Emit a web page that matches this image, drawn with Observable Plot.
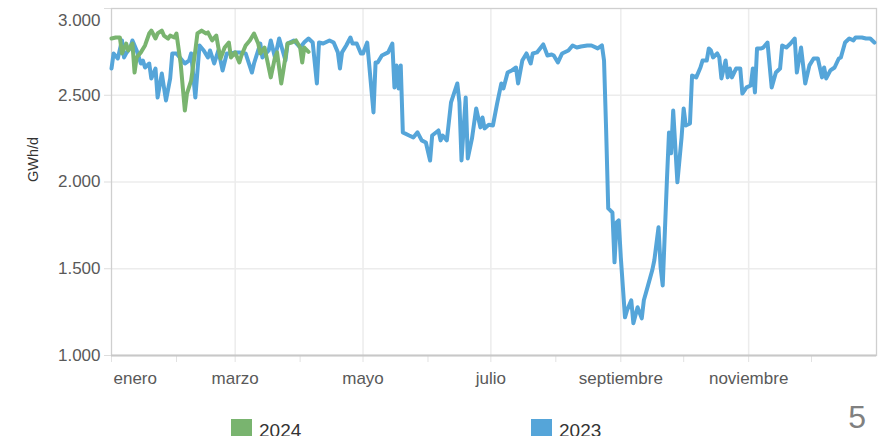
<!DOCTYPE html>
<html><head><meta charset="utf-8">
<script src="https://cdn.jsdelivr.net/npm/d3@7"></script>
<script src="https://cdn.jsdelivr.net/npm/@observablehq/plot@0.6"></script>
<style>
html,body{margin:0;padding:0;background:#fff;overflow:hidden}
#wrap{position:relative;width:884px;height:436px;overflow:hidden}
#overlay{position:absolute;left:0;top:0;pointer-events:none}
</style></head><body><div id="wrap"></div>
<script>
// day of year (0 = 1 de enero) and daily values, GWh/d
const dias2023 = [0,1,3,5,6,7,9,10,12,14,15,16,18,19,21,22,24,26,28,29,31,33,35,37,38,40,42,44,46,47,49,51,53,55,57,59,61,64,67,68,71,72,75,76,78,80,83,84,87,90,92,94,96,98,99,101,104,106,108,109,110,112,114,115,117,119,120,122,125,126,127,129,132,134,135,136,137,138,139,142,144,146,148,150,152,153,156,157,158,160,162,165,166,167,169,170,172,174,176,177,178,180,182,184,186,187,189,191,193,194,196,198,200,201,203,206,208,210,211,213,215,218,220,222,224,227,229,232,234,235,236,237,238,239,240,241,242,243,245,246,248,249,251,253,254,256,258,259,261,262,263,265,266,267,268,270,272,273,274,276,277,279,281,282,284,285,286,287,289,290,291,293,294,295,296,298,300,301,303,305,306,307,308,310,311,313,314,315,317,319,320,322,324,326,327,329,331,333,335,337,339,340,341,343,345,347,348,350,352,354,355,358,360,362,364];
const valores2023 = [2654,2741,2712,2816,2718,2741,2775,2816,2758,2683,2700,2660,2683,2597,2654,2487,2625,2470,2597,2741,2741,2712,2683,2700,2741,2487,2787,2758,2718,2758,2683,2758,2643,2741,2741,2747,2747,2741,2631,2683,2798,2718,2758,2816,2718,2827,2700,2798,2816,2775,2805,2827,2804,2568,2804,2798,2816,2804,2747,2654,2747,2787,2833,2798,2798,2741,2741,2804,2401,2689,2689,2729,2747,2798,2545,2672,2539,2672,2286,2268,2257,2286,2240,2228,2124,2268,2297,2240,2268,2240,2459,2568,2459,2124,2487,2136,2251,2424,2315,2372,2309,2330,2326,2453,2568,2539,2631,2643,2660,2568,2700,2741,2683,2741,2747,2793,2729,2735,2729,2689,2741,2758,2787,2775,2781,2787,2787,2770,2787,2700,2300,1848,1836,1825,1537,1767,1779,1566,1220,1261,1318,1186,1278,1214,1318,1404,1491,1549,1739,1508,1404,2009,2286,2165,2412,1998,2257,2424,2326,2338,2614,2603,2660,2700,2700,2770,2758,2718,2741,2718,2597,2700,2603,2654,2603,2654,2654,2510,2545,2556,2654,2516,2770,2770,2775,2804,2672,2545,2631,2654,2787,2775,2798,2827,2631,2775,2568,2672,2712,2712,2603,2660,2597,2643,2660,2712,2718,2804,2827,2816,2833,2833,2827,2827,2804];
const dias2024 = [0,2,4,5,7,8,10,11,12,14,16,18,19,21,22,24,25,27,28,30,31,33,35,36,38,40,41,43,45,46,48,50,51,52,54,56,57,59,61,62,64,66,68,70,71,73,74,76,78,79,81,82,84,86,88,90,91,92,94];
const valores2024 = [2827,2833,2833,2741,2798,2758,2798,2631,2718,2747,2787,2856,2873,2827,2856,2873,2844,2827,2844,2833,2856,2683,2412,2510,2585,2758,2856,2873,2856,2862,2816,2844,2775,2712,2775,2804,2718,2747,2689,2729,2787,2816,2856,2798,2741,2775,2718,2603,2718,2747,2568,2643,2798,2804,2816,2775,2689,2775,2750];

const mesesTicks = [0,1,2,3,4,5,6,7,8,9,10,11];
const mesesEtiquetaIdx = [0,2,4,6,8,10];
const mesesEtiquetas = ["enero","marzo","mayo","julio","septiembre","noviembre"];
const yTicks = [1000,1500,2000,2500,3000];
const yEtiquetas = ["1.000","1.500","2.000","2.500","3.000"];
const series = ["2024","2023"];
const colores = ["#79b46f","#55a5d9"];
const unidad = "GWh/d";
const pagina = "5";

const fecha = d => new Date(Date.UTC(2023, 0, 1 + d));
const mes = m => new Date(Date.UTC(2023, m, 1));
const data23 = dias2023.map((d, i) => ({fecha: fecha(d), valor: valores2023[i]}));
const data24 = dias2024.map((d, i) => ({fecha: fecha(d), valor: valores2024[i]}));
const mesFechas = mesesTicks.map(mes);
const majorFechas = mesesEtiquetaIdx.map(mes);
const fmtX = d => mesesEtiquetas[majorFechas.findIndex(t => +t === +d)];
const fmtY = v => yEtiquetas[yTicks.indexOf(v)];

const chart = Plot.plot({
  width: 884, height: 436,
  marginTop: 8, marginLeft: 111, marginRight: 8, marginBottom: 81,
  style: {fontFamily: "'Liberation Sans', Arial, sans-serif", fontSize: "17px", color: "#595959", background: "#fff"},
  x: {type: "utc", domain: [mes(0), new Date(Date.UTC(2024, 0, 1))], label: null},
  y: {domain: [1000, 3000], label: null},
  marks: [
    Plot.gridY(yTicks.slice(1, -1), {stroke: "#ececec", strokeOpacity: 1, strokeWidth: 1.5}),
    Plot.gridX(majorFechas.slice(1), {stroke: "#ececec", strokeOpacity: 1, strokeWidth: 1.5}),
    Plot.axisX(mesFechas, {tickSize: 7, tickFormat: () => "", stroke: "#e2e2e2", strokeOpacity: 1, label: null}),
    Plot.axisX(majorFechas.slice(1), {tickSize: 0, tickPadding: 16, tickFormat: fmtX, label: null}),
    Plot.axisX(majorFechas.slice(0, 1), {tickSize: 0, tickPadding: 16, tickFormat: fmtX, textAnchor: "start", dx: 2, label: null}),
    Plot.axisY(yTicks, {tickSize: 7, tickFormat: () => "", stroke: "#dddddd", strokeOpacity: 1, label: null}),
    Plot.axisY(yTicks.slice(0, -1), {tickSize: 0, tickPadding: 11, tickFormat: fmtY, label: null}),
    Plot.axisY(yTicks.slice(-1), {tickSize: 0, tickPadding: 11, dy: 12, tickFormat: fmtY, label: null}),
    Plot.frame({stroke: "#cfcfcf", strokeWidth: 1.3}),
    Plot.ruleY([1000], {stroke: "#c8c8c8", strokeWidth: 2}),
    Plot.line(data23, {x: "fecha", y: "valor", stroke: colores[1], strokeWidth: 4, strokeLinejoin: "round"}),
    Plot.line(data24, {x: "fecha", y: "valor", stroke: colores[0], strokeWidth: 4, strokeLinejoin: "round"}),
    Plot.text([unidad], {text: d => d, frameAnchor: "left", rotate: -90, dx: -78, fill: "#333", fontSize: 14.5})
  ]
});
const wrap = document.getElementById("wrap");
wrap.appendChild(chart);

// legend + page number
const ov = d3.select(wrap).append("svg").attr("id", "overlay").attr("width", 884).attr("height", 436)
  .style("font-family", "'Liberation Sans', Arial, sans-serif");
const legX = [231, 531];
series.forEach((s, i) => {
  ov.append("rect").attr("x", legX[i]).attr("y", 419).attr("width", 21).attr("height", 21).attr("fill", colores[i]);
  ov.append("text").attr("x", legX[i] + 28).attr("y", 437).attr("font-size", 19).attr("fill", "#333").text(s);
});
ov.append("text").attr("x", 866).attr("y", 428).attr("text-anchor", "end").attr("font-size", 32).attr("fill", "#808080").text(pagina);
</script></body></html>
